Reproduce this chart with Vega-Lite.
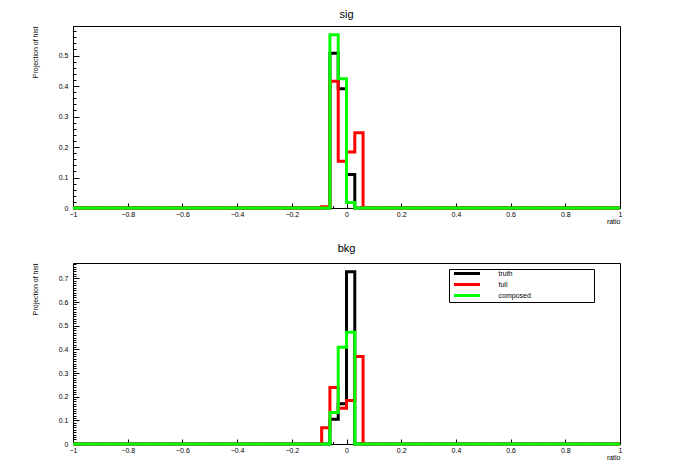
{
  "$schema": "https://vega.github.io/schema/vega-lite/v6.json",
  "padding": {"left": 30, "top": 8, "right": 0, "bottom": 0},
  "background": "white",
  "config": {
    "font": "Liberation Sans",
    "view": {"stroke": "black", "strokeWidth": 1},
    "title": {"fontSize": 11, "fontWeight": "normal", "font": "Liberation Sans", "color": "black", "offset": 6},
    "axis": {"grid": false, "domainColor": "black", "tickColor": "black", "labelColor": "black", "titleColor": "black", "labelFontSize": 7, "titleFontSize": 7, "titleFontWeight": "normal", "labelOverlap": false, "labelFlush": false},
    "legend": {"rowPadding": 0}
  },
  "datasets": {
    "hist": [
      {"panel": "sig", "series": "truth", "x": -1, "y": 0},
      {"panel": "sig", "series": "truth", "x": -0.060606, "y": 0.508},
      {"panel": "sig", "series": "truth", "x": -0.030303, "y": 0.391},
      {"panel": "sig", "series": "truth", "x": 0, "y": 0.110},
      {"panel": "sig", "series": "truth", "x": 0.030303, "y": 0},
      {"panel": "sig", "series": "truth", "x": 1, "y": 0},
      {"panel": "sig", "series": "full", "x": -1, "y": 0},
      {"panel": "sig", "series": "full", "x": -0.090909, "y": 0.004},
      {"panel": "sig", "series": "full", "x": -0.060606, "y": 0.416},
      {"panel": "sig", "series": "full", "x": -0.030303, "y": 0.153},
      {"panel": "sig", "series": "full", "x": 0, "y": 0.184},
      {"panel": "sig", "series": "full", "x": 0.030303, "y": 0.247},
      {"panel": "sig", "series": "full", "x": 0.060606, "y": 0},
      {"panel": "sig", "series": "full", "x": 1, "y": 0},
      {"panel": "sig", "series": "composed", "x": -1, "y": 0},
      {"panel": "sig", "series": "composed", "x": -0.060606, "y": 0.568},
      {"panel": "sig", "series": "composed", "x": -0.030303, "y": 0.424},
      {"panel": "sig", "series": "composed", "x": 0, "y": 0.018},
      {"panel": "sig", "series": "composed", "x": 0.030303, "y": 0},
      {"panel": "sig", "series": "composed", "x": 1, "y": 0},
      {"panel": "bkg", "series": "truth", "x": -1, "y": 0},
      {"panel": "bkg", "series": "truth", "x": -0.060606, "y": 0.105},
      {"panel": "bkg", "series": "truth", "x": -0.030303, "y": 0.170},
      {"panel": "bkg", "series": "truth", "x": 0, "y": 0.728},
      {"panel": "bkg", "series": "truth", "x": 0.030303, "y": 0},
      {"panel": "bkg", "series": "truth", "x": 1, "y": 0},
      {"panel": "bkg", "series": "full", "x": -1, "y": 0},
      {"panel": "bkg", "series": "full", "x": -0.090909, "y": 0.069},
      {"panel": "bkg", "series": "full", "x": -0.060606, "y": 0.239},
      {"panel": "bkg", "series": "full", "x": -0.030303, "y": 0.151},
      {"panel": "bkg", "series": "full", "x": 0, "y": 0.184},
      {"panel": "bkg", "series": "full", "x": 0.030303, "y": 0.370},
      {"panel": "bkg", "series": "full", "x": 0.060606, "y": 0},
      {"panel": "bkg", "series": "full", "x": 1, "y": 0},
      {"panel": "bkg", "series": "composed", "x": -1, "y": 0},
      {"panel": "bkg", "series": "composed", "x": -0.060606, "y": 0.133},
      {"panel": "bkg", "series": "composed", "x": -0.030303, "y": 0.409},
      {"panel": "bkg", "series": "composed", "x": 0, "y": 0.472},
      {"panel": "bkg", "series": "composed", "x": 0.030303, "y": 0},
      {"panel": "bkg", "series": "composed", "x": 1, "y": 0}
    ]
  },
  "resolve": {"legend": {"color": "independent"}},
  "spacing": 17,
  "vconcat": [
    {
      "title": "sig",
      "width": 547,
      "height": 182,
      "data": {"name": "hist"},
      "transform": [{"filter": "datum.panel === 'sig'"}],
      "encoding": {
        "x": {"field": "x", "type": "quantitative", "scale": {"domain": [-1, 1], "nice": false, "zero": false},
          "axis": {"title": "ratio", "titleAnchor": "end", "titleAlign": "right", "titlePadding": -2,
            "values": [-1,-0.95,-0.9,-0.85,-0.8,-0.75,-0.7,-0.65,-0.6,-0.55,-0.5,-0.45,-0.4,-0.35,-0.3,-0.25,-0.2,-0.15,-0.1,-0.05,0,0.05,0.1,0.15,0.2,0.25,0.3,0.35,0.4,0.45,0.5,0.55,0.6,0.65,0.7,0.75,0.8,0.85,0.9,0.95,1],
            "labelExpr": "abs(datum.value*5 - round(datum.value*5)) < 0.001 ? format(datum.value, '.1~f') : ''",
            "tickSize": {"condition": {"test": "abs(datum.value*5 - round(datum.value*5)) < 0.001", "value": -5}, "value": -2.5},
            "labelPadding": 7}},
        "y": {"field": "y", "type": "quantitative", "scale": {"domain": [0, 0.597], "nice": false},
          "axis": {"title": "Projection of hist", "titleAnchor": "end", "titleAlign": "right", "titlePadding": 20,
            "values": [0,0.02,0.04,0.06,0.08,0.1,0.12,0.14,0.16,0.18,0.2,0.22,0.24,0.26,0.28,0.3,0.32,0.34,0.36,0.38,0.4,0.42,0.44,0.46,0.48,0.5,0.52,0.54,0.56,0.58],
            "labelExpr": "abs(datum.value*10 - round(datum.value*10)) < 0.001 ? format(datum.value, '.1~f') : ''",
            "tickSize": {"condition": {"test": "abs(datum.value*10 - round(datum.value*10)) < 0.001", "value": -6}, "value": -3},
            "labelPadding": 11}},
        "color": {"field": "series", "type": "nominal", "scale": {"domain": ["truth", "full", "composed"], "range": ["#000000", "#ff0000", "#00ff00"]}, "legend": null}
      },
      "layer": [
        {"transform": [{"filter": "datum.series === 'truth'"}], "mark": {"type": "line", "interpolate": "step-after", "strokeWidth": 3, "strokeJoin": "miter"}},
        {"transform": [{"filter": "datum.series === 'full'"}], "mark": {"type": "line", "interpolate": "step-after", "strokeWidth": 3, "strokeJoin": "miter"}},
        {"transform": [{"filter": "datum.series === 'composed'"}], "mark": {"type": "line", "interpolate": "step-after", "strokeWidth": 3, "strokeJoin": "miter"}}
      ]
    },
    {
      "title": "bkg",
      "width": 547,
      "height": 181,
      "data": {"name": "hist"},
      "transform": [{"filter": "datum.panel === 'bkg'"}],
      "encoding": {
        "x": {"field": "x", "type": "quantitative", "scale": {"domain": [-1, 1], "nice": false, "zero": false},
          "axis": {"title": "ratio", "titleAnchor": "end", "titleAlign": "right", "titlePadding": -2,
            "values": [-1,-0.95,-0.9,-0.85,-0.8,-0.75,-0.7,-0.65,-0.6,-0.55,-0.5,-0.45,-0.4,-0.35,-0.3,-0.25,-0.2,-0.15,-0.1,-0.05,0,0.05,0.1,0.15,0.2,0.25,0.3,0.35,0.4,0.45,0.5,0.55,0.6,0.65,0.7,0.75,0.8,0.85,0.9,0.95,1],
            "labelExpr": "abs(datum.value*5 - round(datum.value*5)) < 0.001 ? format(datum.value, '.1~f') : ''",
            "tickSize": {"condition": {"test": "abs(datum.value*5 - round(datum.value*5)) < 0.001", "value": -5}, "value": -2.5},
            "labelPadding": 7}},
        "y": {"field": "y", "type": "quantitative", "scale": {"domain": [0, 0.765], "nice": false},
          "axis": {"title": "Projection of hist", "titleAnchor": "end", "titleAlign": "right", "titlePadding": 20,
            "values": [0,0.01,0.02,0.03,0.04,0.05,0.06,0.07,0.08,0.09,0.1,0.11,0.12,0.13,0.14,0.15,0.16,0.17,0.18,0.19,0.2,0.21,0.22,0.23,0.24,0.25,0.26,0.27,0.28,0.29,0.3,0.31,0.32,0.33,0.34,0.35,0.36,0.37,0.38,0.39,0.4,0.41,0.42,0.43,0.44,0.45,0.46,0.47,0.48,0.49,0.5,0.51,0.52,0.53,0.54,0.55,0.56,0.57,0.58,0.59,0.6,0.61,0.62,0.63,0.64,0.65,0.66,0.67,0.68,0.69,0.7,0.71,0.72,0.73,0.74,0.75,0.76],
            "labelExpr": "abs(datum.value*10 - round(datum.value*10)) < 0.001 ? format(datum.value, '.1~f') : ''",
            "tickSize": {"condition": {"test": "abs(datum.value*10 - round(datum.value*10)) < 0.001", "value": -6}, "value": -3},
            "labelPadding": 11}},
        "color": {"field": "series", "type": "nominal", "scale": {"domain": ["truth", "full", "composed"], "range": ["#000000", "#ff0000", "#00ff00"]},
          "legend": {"title": null, "orient": "none", "legendX": 376, "legendY": 6, "direction": "vertical",
            "strokeColor": "black", "fillColor": "white", "padding": 0, "cornerRadius": 0,
            "symbolType": "M-4.333,0H4.333M40.2,0h0", "symbolStrokeWidth": 3, "symbolSize": 36, "symbolOffset": 13.5,
            "labelFontSize": 7, "labelColor": "black", "labelAlign": "left", "rowPadding": -2, "labelOffset": 27}}
      },
      "layer": [
        {"transform": [{"filter": "datum.series === 'truth'"}], "mark": {"type": "line", "interpolate": "step-after", "strokeWidth": 3, "strokeJoin": "miter"}},
        {"transform": [{"filter": "datum.series === 'full'"}], "mark": {"type": "line", "interpolate": "step-after", "strokeWidth": 3, "strokeJoin": "miter"}},
        {"transform": [{"filter": "datum.series === 'composed'"}], "mark": {"type": "line", "interpolate": "step-after", "strokeWidth": 3, "strokeJoin": "miter"}}
      ]
    }
  ]
}
